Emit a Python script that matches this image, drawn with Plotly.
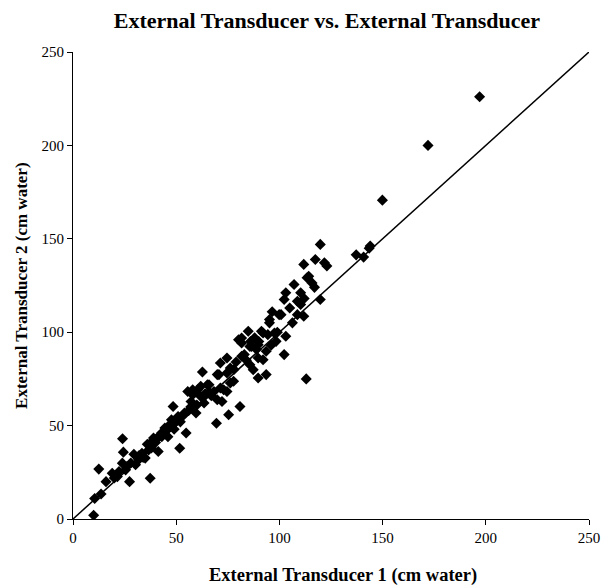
import plotly.graph_objects as go

transducer1 = [10, 10.5, 13.6, 12.5, 19, 21.5, 22.3, 23.9, 25.5, 24, 24.4, 27.4, 29.5, 30.3, 31.8,
               33.4, 35, 36.6, 37.4, 37.4, 39, 39.8, 41.3, 42.2, 42.9, 44.5, 46.1, 47.7, 47.7, 48.5,
               50, 50.9, 51.7, 54, 54.8, 55.6, 57.2, 58, 58, 59.6, 60.4, 61.9, 61.9, 62.7, 63.5,
               63.5, 65.1, 65.9, 68.3, 69.5, 69.9, 69.9, 70.7, 71.4, 71.4, 72.2, 73, 74.6, 74.6,
               74.6, 75.4, 76.2, 76.2, 77.8, 80.2, 80.9, 81.7, 81.7, 81.7, 84.9, 85.7, 85.7, 86.5,
               87.3, 88.9, 89.7, 89.7, 89.7, 91.3, 92.1, 92.1, 93.6, 93.6, 94.4, 95.2, 95.2, 96.5,
               97.6, 98.4, 99.9, 100.8, 102.3, 102.3, 103.1, 103.1, 106.3, 107.1, 108.7, 108.7,
               110.3, 110.3, 111.8, 111.8, 113.4, 113, 114.2, 115.8, 117.4, 119.8, 119.8, 121.8,
               123, 137.2, 140.8, 143.5, 144, 149.9, 172, 197,
               16, 20, 26, 28, 32, 34, 36, 38, 40, 43, 45, 46, 48, 49, 52, 53, 56, 57, 60, 64,
               66, 67, 78, 79, 83, 84, 86, 88, 90, 96, 99, 105, 112, 117]
transducer2 = [2, 11, 13.4, 26.7, 24.5, 22.7, 25.4, 29.9, 26.3, 43, 35.8, 20, 34.7, 29, 31.7,
               35.2, 32.6, 37, 21.8, 40.6, 43.3, 42.4, 36.1, 45, 46, 48.7, 49.5, 51.3, 53.1, 60.2,
               52.2, 54.9, 37.9, 56.7, 46, 68.3, 62.9, 69.2, 66.5, 56.7, 69.2, 71, 65.6, 78.7, 62.1,
               65.6, 71.9, 71.9, 68.3, 51.3, 77.3, 63.8, 77.3, 83.5, 70.1, 62.9, 69.2, 78.2, 86.2,
               68.3, 55.8, 72.8, 80.8, 73.7, 96, 60.2, 94.2, 87.1, 96.9, 100.5, 92.4, 82.6, 92.4,
               79.9, 90.7, 93.3, 75.5, 86.2, 100.5, 99.6, 85.3, 89.8, 77.3, 98.7, 105, 106.8, 110.9,
               99.6, 95.1, 109.4, 109.4, 88, 117.5, 121.1, 97.8, 105, 125.5, 116.6, 109.4,
               121.1, 114.8, 136.3, 108.5, 129.1, 75, 130, 126.4, 138.9, 147, 117.5, 137.2,
               135.4, 141.4, 140.2, 145, 146.1, 170.7, 200, 226,
               20, 22, 28, 30, 34, 33, 40, 38, 41, 44, 47, 44, 50, 48, 52, 55, 58, 60, 61, 67,
               68, 66, 80, 84, 88, 85, 95, 97, 95, 93, 100, 113, 118, 124]
line_x = [0, 250]
line_y = [0, 250]
x_ticks = [0, 50, 100, 150, 200, 250]
y_ticks = [0, 50, 100, 150, 200, 250]

fig = go.Figure()
fig.add_trace(go.Scatter(x=transducer1, y=transducer2, mode="markers",
                         marker=dict(symbol="diamond", size=8.5, color="black",
                                     line=dict(width=0)),
                         showlegend=False))
fig.add_trace(go.Scatter(x=line_x, y=line_y, mode="lines",
                         line=dict(color="black", width=1.5), showlegend=False))

font = "Liberation Serif, Times New Roman, serif"
fig.update_layout(
    width=604, height=579,
    margin=dict(l=65, r=13, t=44, b=68),
    paper_bgcolor="white", plot_bgcolor="white",
    font=dict(family=font, color="black", size=15),
    title=dict(text="<b>External Transducer vs. External Transducer</b>",
               x=0.528, xanchor="center", y=0.979, yanchor="middle",
               font=dict(family=font, size=22, color="black")),
    annotations=[
        dict(text="<b>External Transducer 1 (cm water)</b>", xref="paper", yref="paper",
             x=0.523, y=-0.122, xanchor="center", yanchor="middle", showarrow=False,
             font=dict(family=font, size=18.5, color="black")),
        dict(text="<b>External Transducer 2 (cm water)</b>", xref="paper", yref="paper",
             x=-0.1, y=0.5, xanchor="center", yanchor="middle", showarrow=False,
             textangle=-90, font=dict(family=font, size=17, color="black")),
    ],
)
fig.update_xaxes(range=[0, 250], tickvals=x_ticks, showgrid=False, zeroline=False,
                 showline=True, linecolor="black", linewidth=1,
                 ticks="outside", ticklen=5, tickcolor="black",
                 tickfont=dict(family=font, size=15))
fig.update_yaxes(range=[0, 250], tickvals=y_ticks, showgrid=False, zeroline=False,
                 showline=True, linecolor="black", linewidth=1,
                 ticks="outside", ticklen=5, tickcolor="black",
                 tickfont=dict(family=font, size=15))

fig.write_html("out.html")
